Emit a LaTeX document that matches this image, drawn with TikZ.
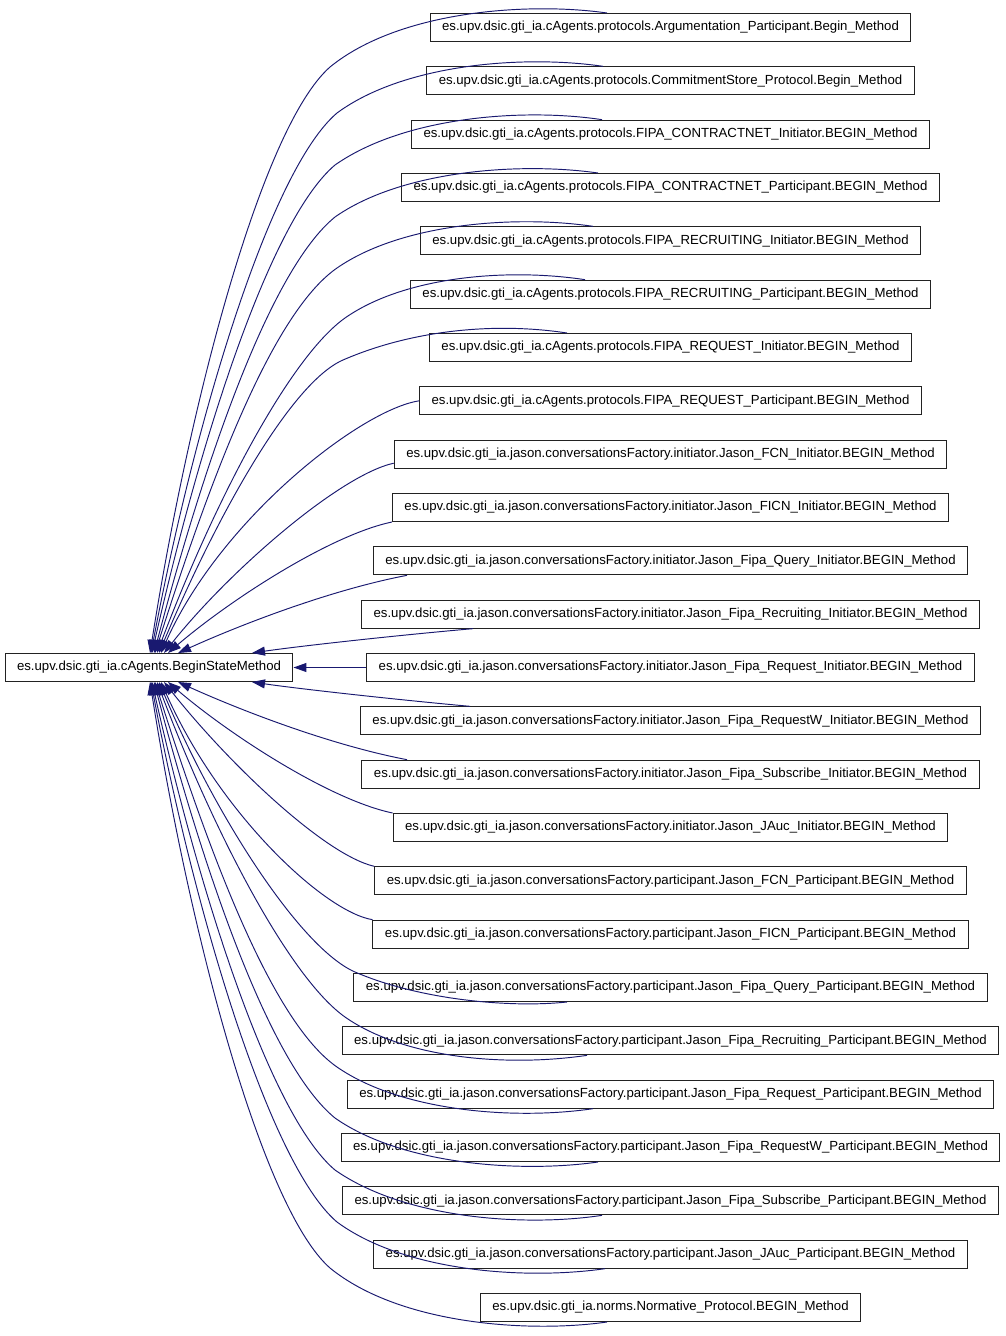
\documentclass[tikz,border=0pt]{standalone}
\usepackage{fontspec}
\setmainfont{Liberation Sans}
\usetikzlibrary{arrows.meta}
\definecolor{edgeblue}{HTML}{191970}
\definecolor{boxline}{HTML}{222222}
\begin{document}
\begin{tikzpicture}[x=1pt,y=-1pt,
  cls/.style={draw=boxline,line width=1pt,fill=white,minimum height=28pt,
    inner xsep=12pt,inner ysep=0pt,font=\fontsize{13.2}{16}\selectfont,anchor=center},
  edge/.style={draw=edgeblue,line width=0.95pt,-{Triangle[length=13pt,width=9pt,fill=edgeblue]}}]
\fill[white] (0,0) rectangle (1005,1336);
\useasboundingbox (0,0) rectangle (1005,1336);

\node[cls] (base) at (149,667.5) {es.upv.dsic.gti\_ia.cAgents.BeginStateMethod};

\node[cls] (n1) at (670.5,27.5) {es.upv.dsic.gti\_ia.cAgents.protocols.Argumentation\_Participant.Begin\_Method};
\node[cls] (n2) at (670.5,80.83) {es.upv.dsic.gti\_ia.cAgents.protocols.CommitmentStore\_Protocol.Begin\_Method};
\node[cls] (n3) at (670.5,134.17) {es.upv.dsic.gti\_ia.cAgents.protocols.FIPA\_CONTRACTNET\_Initiator.BEGIN\_Method};
\node[cls] (n4) at (670.5,187.5) {es.upv.dsic.gti\_ia.cAgents.protocols.FIPA\_CONTRACTNET\_Participant.BEGIN\_Method};
\node[cls] (n5) at (670.5,240.83) {es.upv.dsic.gti\_ia.cAgents.protocols.FIPA\_RECRUITING\_Initiator.BEGIN\_Method};
\node[cls] (n6) at (670.5,294.17) {es.upv.dsic.gti\_ia.cAgents.protocols.FIPA\_RECRUITING\_Participant.BEGIN\_Method};
\node[cls] (n7) at (670.5,347.5) {es.upv.dsic.gti\_ia.cAgents.protocols.FIPA\_REQUEST\_Initiator.BEGIN\_Method};
\node[cls] (n8) at (670.5,400.83) {es.upv.dsic.gti\_ia.cAgents.protocols.FIPA\_REQUEST\_Participant.BEGIN\_Method};
\node[cls] (n9) at (670.5,454.17) {es.upv.dsic.gti\_ia.jason.conversationsFactory.initiator.Jason\_FCN\_Initiator.BEGIN\_Method};
\node[cls] (n10) at (670.5,507.5) {es.upv.dsic.gti\_ia.jason.conversationsFactory.initiator.Jason\_FICN\_Initiator.BEGIN\_Method};
\node[cls] (n11) at (670.5,560.83) {es.upv.dsic.gti\_ia.jason.conversationsFactory.initiator.Jason\_Fipa\_Query\_Initiator.BEGIN\_Method};
\node[cls] (n12) at (670.5,614.17) {es.upv.dsic.gti\_ia.jason.conversationsFactory.initiator.Jason\_Fipa\_Recruiting\_Initiator.BEGIN\_Method};
\node[cls] (n13) at (670.5,667.5) {es.upv.dsic.gti\_ia.jason.conversationsFactory.initiator.Jason\_Fipa\_Request\_Initiator.BEGIN\_Method};
\node[cls] (n14) at (670.5,720.83) {es.upv.dsic.gti\_ia.jason.conversationsFactory.initiator.Jason\_Fipa\_RequestW\_Initiator.BEGIN\_Method};
\node[cls] (n15) at (670.5,774.17) {es.upv.dsic.gti\_ia.jason.conversationsFactory.initiator.Jason\_Fipa\_Subscribe\_Initiator.BEGIN\_Method};
\node[cls] (n16) at (670.5,827.5) {es.upv.dsic.gti\_ia.jason.conversationsFactory.initiator.Jason\_JAuc\_Initiator.BEGIN\_Method};
\node[cls] (n17) at (670.5,880.83) {es.upv.dsic.gti\_ia.jason.conversationsFactory.participant.Jason\_FCN\_Participant.BEGIN\_Method};
\node[cls] (n18) at (670.5,934.17) {es.upv.dsic.gti\_ia.jason.conversationsFactory.participant.Jason\_FICN\_Participant.BEGIN\_Method};
\node[cls] (n19) at (670.5,987.5) {es.upv.dsic.gti\_ia.jason.conversationsFactory.participant.Jason\_Fipa\_Query\_Participant.BEGIN\_Method};
\node[cls] (n20) at (670.5,1040.83) {es.upv.dsic.gti\_ia.jason.conversationsFactory.participant.Jason\_Fipa\_Recruiting\_Participant.BEGIN\_Method};
\node[cls] (n21) at (670.5,1094.17) {es.upv.dsic.gti\_ia.jason.conversationsFactory.participant.Jason\_Fipa\_Request\_Participant.BEGIN\_Method};
\node[cls] (n22) at (670.5,1147.5) {es.upv.dsic.gti\_ia.jason.conversationsFactory.participant.Jason\_Fipa\_RequestW\_Participant.BEGIN\_Method};
\node[cls] (n23) at (670.5,1200.83) {es.upv.dsic.gti\_ia.jason.conversationsFactory.participant.Jason\_Fipa\_Subscribe\_Participant.BEGIN\_Method};
\node[cls] (n24) at (670.5,1254.17) {es.upv.dsic.gti\_ia.jason.conversationsFactory.participant.Jason\_JAuc\_Participant.BEGIN\_Method};
\node[cls] (n25) at (670.5,1307.5) {es.upv.dsic.gti\_ia.norms.Normative\_Protocol.BEGIN\_Method};

% upper edges
\draw[edge] ([xshift=-63.5pt]n1.north) .. controls (530,2) and (400,10) .. (330,67) .. controls (262,127) and (190,400) .. ([xshift=1pt]base.north);
\draw[edge] ([xshift=-67.5pt]n2.north) .. controls (526,55) and (405,63) .. (337,113) .. controls (270,170) and (195,420) .. ([xshift=2pt]base.north);
\draw[edge] ([xshift=-68.5pt]n3.north) .. controls (525,108) and (405,116) .. (335,165) .. controls (270,220) and (200,440) .. ([xshift=3pt]base.north);
\draw[edge] ([xshift=-72.5pt]n4.north) .. controls (521,162) and (402,170) .. (335,217) .. controls (270,270) and (205,460) .. ([xshift=5pt]base.north);
\draw[edge] ([xshift=-77.5pt]n5.north) .. controls (516,215) and (402,223) .. (337,268) .. controls (272,313) and (210,480) .. ([xshift=6pt]base.north);
\draw[edge] ([xshift=-85.5pt]n6.north) .. controls (508,268) and (405,276) .. (345,318) .. controls (290,357) and (215,500) .. ([xshift=8pt]base.north);
\draw[edge] ([xshift=-103.5pt]n7.north) .. controls (495,322) and (412,330) .. (343,360) .. controls (290,383) and (215,520) .. ([xshift=10pt]base.north);
\draw[edge] (n8.west) .. controls (360,410) and (220,520) .. ([xshift=12pt]base.north);
\draw[edge] ([yshift=-9pt]n9.west) .. controls (340,475) and (230,570) .. ([xshift=15pt]base.north);
\draw[edge] (n10.south west) .. controls (330,535) and (230,600) .. ([xshift=19pt]base.north);
\draw[edge] ([xshift=-263.5pt]n11.south) .. controls (330,590) and (240,625) .. ([xshift=29pt]base.north);
\draw[edge] ([xshift=-197.5pt]n12.south) .. controls (400,635) and (300,646) .. ([xshift=103pt]base.north);
\draw[edge] (n13.west) -- (base.east);
% lower edges
\draw[edge] ([xshift=-200.5pt]n14.north) .. controls (400,700) and (300,689) .. ([xshift=103pt]base.south);
\draw[edge] ([xshift=-263.5pt]n15.north) .. controls (330,745) and (240,710) .. ([xshift=29pt]base.south);
\draw[edge] (n16.north west) .. controls (330,800) and (230,735) .. ([xshift=19pt]base.south);
\draw[edge] (n17.north west) .. controls (325,855) and (230,765) .. ([xshift=15pt]base.south);
\draw[edge] (n18.north west) .. controls (325,912) and (220,815) .. ([xshift=12pt]base.south);
\draw[edge] ([xshift=-103.5pt]n19.south) .. controls (510,1008) and (420,1000) .. (355,972) .. controls (300,948) and (215,815) .. ([xshift=10pt]base.south);
\draw[edge] ([xshift=-83.5pt]n20.south) .. controls (508,1067) and (405,1059) .. (345,1017) .. controls (290,978) and (215,835) .. ([xshift=8pt]base.south);
\draw[edge] ([xshift=-77.5pt]n21.south) .. controls (516,1120) and (402,1112) .. (337,1067) .. controls (272,1022) and (210,855) .. ([xshift=6pt]base.south);
\draw[edge] ([xshift=-72.5pt]n22.south) .. controls (521,1173) and (402,1165) .. (335,1118) .. controls (270,1065) and (205,875) .. ([xshift=5pt]base.south);
\draw[edge] ([xshift=-68.5pt]n23.south) .. controls (525,1227) and (405,1219) .. (335,1170) .. controls (270,1115) and (200,895) .. ([xshift=3pt]base.south);
\draw[edge] ([xshift=-65.5pt]n24.south) .. controls (526,1280) and (405,1272) .. (337,1222) .. controls (270,1165) and (195,915) .. ([xshift=2pt]base.south);
\draw[edge] ([xshift=-63.5pt]n25.south) .. controls (530,1333) and (400,1325) .. (330,1268) .. controls (262,1208) and (190,935) .. ([xshift=1pt]base.south);
\end{tikzpicture}
\end{document}
